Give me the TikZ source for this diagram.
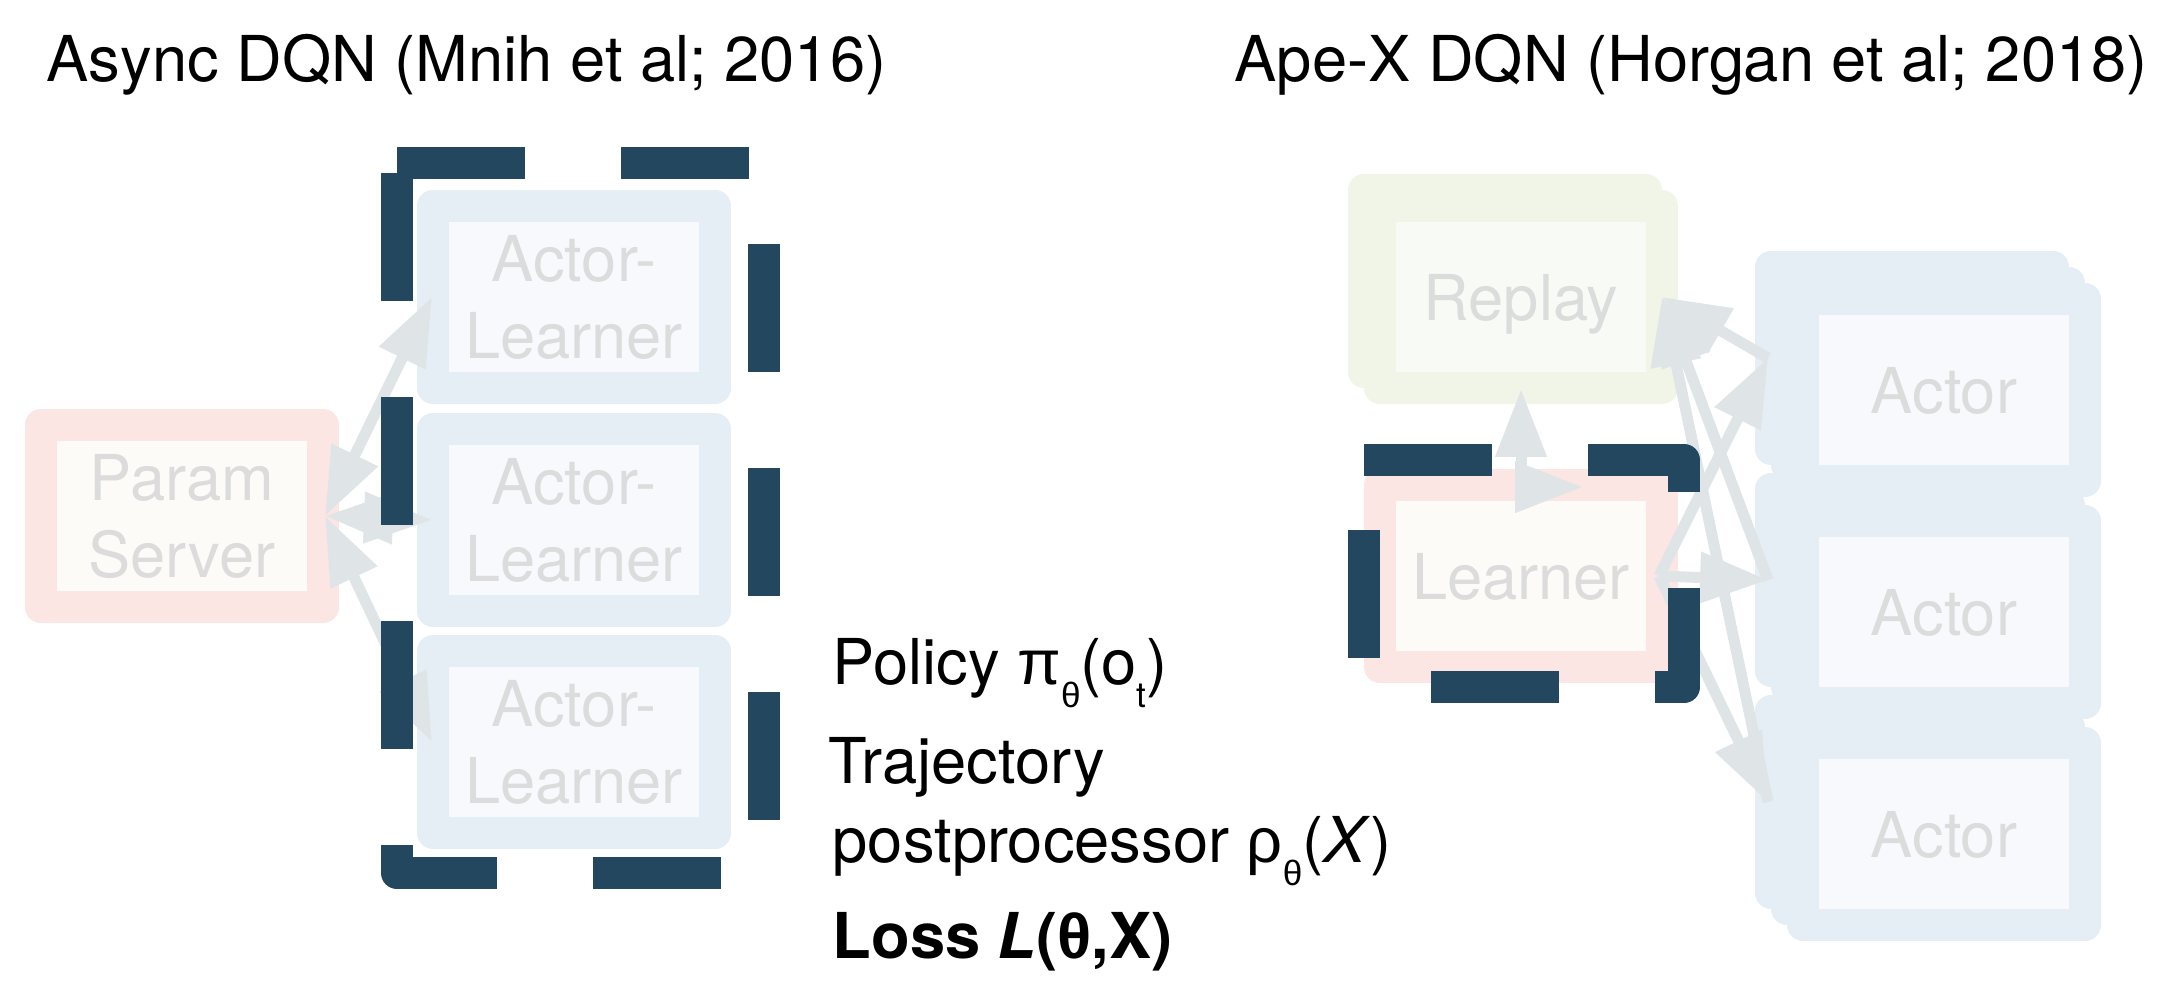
\documentclass[tikz,border=0pt]{standalone}
\usepackage{fontspec}
\setmainfont{TeX Gyre Heros}
\newfontfamily\grk{Liberation Sans}
\usetikzlibrary{arrows.meta}
\definecolor{pinkout}{HTML}{FBE6E4}
\definecolor{pinkin}{HTML}{FCFBF8}
\definecolor{blueout}{HTML}{E5EDF5}
\definecolor{bluein}{HTML}{F7F9FD}
\definecolor{greenout}{HTML}{F0F5E8}
\definecolor{greenin}{HTML}{F8FAF6}
\definecolor{greytext}{HTML}{DCDCDC}
\definecolor{linkgrey}{HTML}{DFE5E7}
\definecolor{navy}{HTML}{23475F}
\newcommand{\lowsub}[1]{\raisebox{-0.23cm}{\fontsize{10}{10}\selectfont #1}}
\tikzstyle{cell} = [rectangle, line width=0.32cm, line join=round, minimum width=2.82cm, minimum height=1.82cm, inner sep=0pt, outer sep=0.16cm, align=center, text depth=0pt, text=greytext, font=\fontsize{18}{22}\selectfont]
\tikzstyle{server} = [cell, draw=pinkout, fill=pinkin]
\tikzstyle{worker} = [cell, draw=blueout, fill=bluein]
\tikzstyle{workerback} = [cell, draw=blueout, fill=blueout]
\tikzstyle{buffer} = [cell, draw=greenout, fill=greenin]
\tikzstyle{bufferback} = [cell, draw=greenout, fill=greenout]
\tikzstyle{oneway} = [line width=0.11cm, draw=linkgrey, -{Triangle[length=0.68cm,width=0.49cm]}]
\tikzstyle{twoway} = [line width=0.11cm, draw=linkgrey, {Triangle[length=0.68cm,width=0.49cm]}-{Triangle[length=0.68cm,width=0.49cm]}]
\tikzstyle{dashframe} = [draw=navy, line width=0.32cm, line join=round, dash pattern=on 1.28cm off 0.96cm]
\tikzstyle{note} = [anchor=base west, inner sep=0pt, font=\fontsize{18}{22}\selectfont]

\begin{document}
\begin{tikzpicture}
\useasboundingbox (0,0) rectangle (21.8,-9.88);
\node [note] at (0.46,-0.82) (lefttitle) {Async DQN (Mnih et al; 2016)};
\node [note] at (12.34,-0.82) (righttitle) {Ape-X DQN (Horgan et al; 2018)};

\node [server] at (1.82,-5.16) (ps) {Param\\Server};
\node [worker] at (5.74,-2.97) (al1) {Actor-\\Learner};
\node [worker] at (5.74,-5.20) (al2) {Actor-\\Learner};
\node [worker] at (5.74,-7.42) (al3) {Actor-\\Learner};

\node [bufferback] at (15.05,-2.81) (replayb) {};
\node [buffer] at (15.21,-2.97) (replay) {Replay};
\node [server] at (15.21,-5.76) (learner) {Learner};
\node [workerback] at (19.12,-3.58) (act1a) {};
\node [workerback] at (19.28,-3.74) (act1b) {};
\node [worker] at (19.44,-3.90) (act1) {Actor};
\node [workerback] at (19.12,-5.80) (act2a) {};
\node [workerback] at (19.28,-5.96) (act2b) {};
\node [worker] at (19.44,-6.12) (act2) {Actor};
\node [workerback] at (19.12,-8.02) (act3a) {};
\node [workerback] at (19.28,-8.18) (act3b) {};
\node [worker] at (19.44,-8.34) (act3) {Actor};
\coordinate (hook) at (15.83,-4.87);

\draw [twoway] ([xshift=-0.14cm]ps.east) -- ([xshift=0.15cm]al1.west);
\draw [twoway] ([xshift=-0.14cm]ps.east) -- ([xshift=0.15cm]al2.west);
\draw [twoway] ([xshift=-0.14cm]ps.east) -- ([xshift=0.15cm]al3.west);

\draw [oneway] ([xshift=-0.19cm]learner.east) -- ([xshift=0.13cm]act1a.west);
\draw [oneway] ([xshift=-0.19cm]learner.east) -- ([xshift=0.13cm]act2a.west);
\draw [oneway] ([xshift=-0.19cm]learner.east) -- ([xshift=0.13cm]act3a.west);
\draw [oneway] ([xshift=0.13cm]act1a.west) -- ([xshift=-0.16cm]replay.east);
\draw [oneway] ([xshift=0.13cm]act2a.west) -- ([xshift=-0.16cm]replay.east);
\draw [oneway] ([xshift=0.13cm]act3a.west) -- ([xshift=-0.16cm]replay.east);
\draw [twoway] ([yshift=0.15cm]replay.south) |- (hook);

\draw [dashframe] (3.97,-1.63) -- (7.64,-1.63) -- (7.64,-8.73) -- (3.97,-8.73) -- cycle;
\draw [dashframe] (13.64,-4.60) -- (16.84,-4.60) -- (16.84,-6.87) -- (13.64,-6.87) -- cycle;

\node [note] at (8.32,-6.84) (policy) {Policy {\grk π}\lowsub{\grk θ}(o\lowsub{t})};
\node [note] at (8.28,-7.83) (traj) {Trajectory};
\node [note] at (8.32,-8.62) (postproc) {postprocessor {\grk ρ}\lowsub{\grk θ}(\emph{X})};
\node [note] at (8.32,-9.58) (loss) {\bfseries Loss \emph{L}({\grk θ},X)};
\end{tikzpicture}
\end{document}
